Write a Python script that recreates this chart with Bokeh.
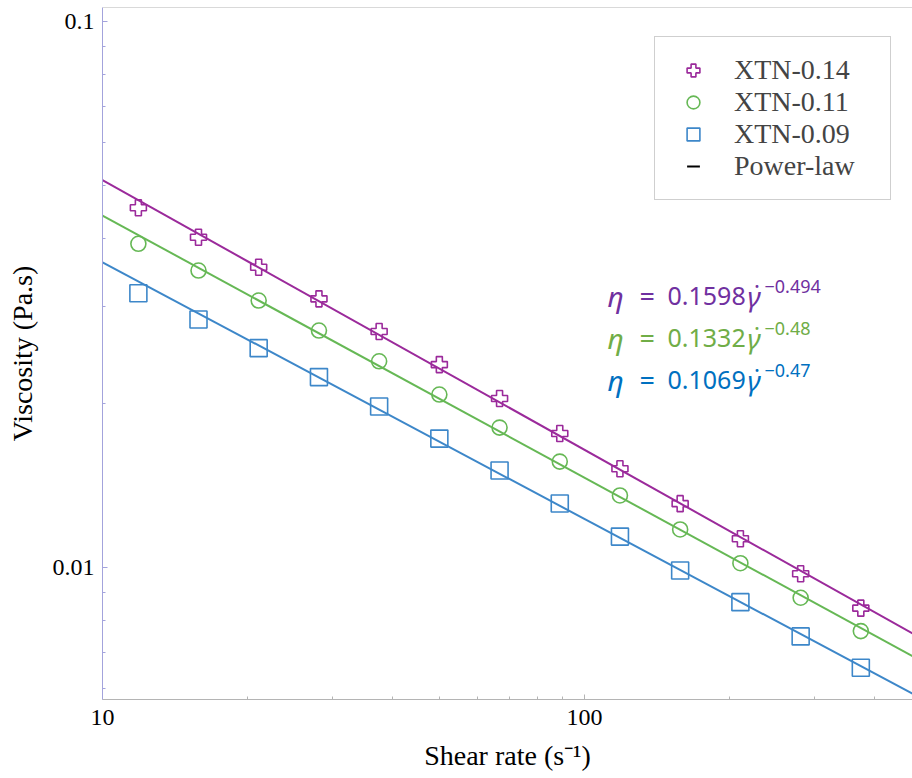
import numpy as np
from bokeh.plotting import figure
from bokeh.models import (Range1d, FixedTicker, CustomJSTickFormatter, Legend,
                          LegendItem, Label, Span)
from bokeh.embed import file_html
from bokeh.resources import INLINE

# ---------------- data ----------------
shear_rate = [11.87, 15.82, 21.09, 28.13, 37.5, 50.0, 66.67, 88.89, 118.5, 158.0, 210.7, 281.0, 374.6]
visc_014 = [0.04558, 0.04026, 0.03548, 0.03105, 0.02705, 0.02353, 0.02040,
            0.01759, 0.01516, 0.01309, 0.01129, 0.009739, 0.008424]
visc_011 = [0.03916, 0.03499, 0.03083, 0.02716, 0.02386, 0.02074, 0.01804,
            0.01563, 0.01355, 0.01174, 0.01018, 0.008801, 0.007646]
visc_009 = [0.03179, 0.02846, 0.02522, 0.02232, 0.01972, 0.01722, 0.01505,
            0.01310, 0.01139, 0.009874, 0.008640, 0.007477, 0.006552]
series_names = ["XTN-0.14", "XTN-0.11", "XTN-0.09"]
fit_k = [0.1598, 0.1332, 0.1069]
fit_n = [-0.494, -0.48, -0.47]
fit_k_text = ["0.1598", "0.1332", "0.1069"]
fit_n_text = ["\u22120.494", "\u22120.48", "\u22120.47"]
fit_x = [10.0, 480.0]
x_major = [10, 100]
x_minor = [20, 30, 40, 50, 60, 70, 80, 90, 200, 300, 400]
y_major = [0.01, 0.1]
y_minor = [0.006, 0.007, 0.008, 0.009, 0.02, 0.03, 0.04, 0.05, 0.06, 0.07, 0.08, 0.09]

line_colors = ["#9b2a9b", "#66b855", "#3d87c9"]
eq_colors = ["#7030a0", "#70ad47", "#0070c0"]
markers = ["plus", "circle", "square"]
marker_sizes = [16, 15, 17]

SERIF = "Liberation Serif"
MATH = "Noto Sans"

p = figure(width=912, height=778, x_axis_type="log", y_axis_type="log",
           x_range=Range1d(10, 479.5), y_range=Range1d(0.00573, 0.1061),
           output_backend="svg", toolbar_location=None,
           min_border_left=102, min_border_right=0, min_border_top=7, min_border_bottom=79)
p.grid.visible = False
p.outline_line_color = None
p.background_fill_color = "white"
p.border_fill_color = "white"

fmt = CustomJSTickFormatter(code="return tick.toString();")

for ax, ticks, minors, col in [(p.xaxis[0], x_major, x_minor, "#b4b4b4"),
                               (p.yaxis[0], y_major, y_minor, "#a3a3dc")]:
    ax.ticker = FixedTicker(ticks=ticks, minor_ticks=minors)
    ax.formatter = fmt
    ax.axis_line_color = col
    ax.major_tick_line_color = col
    ax.minor_tick_line_color = col
    ax.major_tick_in = 5
    ax.major_tick_out = 0
    ax.minor_tick_in = 3
    ax.minor_tick_out = 0
    ax.major_label_text_font = SERIF
    ax.major_label_text_font_size = "24px"
    ax.major_label_text_color = "black"
    ax.axis_label_text_font = SERIF
    ax.axis_label_text_font_size = "28px"
    ax.axis_label_text_font_style = "normal"
    ax.axis_label_text_color = "black"

p.xaxis.axis_label = "Shear rate (s\u207b\u00b9)"
p.yaxis.axis_label = "Viscosity (Pa.s)"
p.xaxis.major_label_standoff = 10
p.xaxis.axis_label_standoff = 12
p.yaxis.major_label_standoff = 8
p.yaxis.axis_label_standoff = 12

p.add_layout(Span(location=0.1061, dimension="width", line_color="#b4b4b4", line_width=1))

# power-law fits
fit_x_arr = np.array(fit_x)
for k, n, c in zip(fit_k, fit_n, line_colors):
    p.line(fit_x_arr, k * fit_x_arr ** n, line_color=c, line_width=2)

renderers = []
for ys, m, s, c in zip([visc_014, visc_011, visc_009], markers, marker_sizes, line_colors):
    r = p.scatter(shear_rate, ys, marker=m, size=s, fill_color=None,
                  line_color=c, line_width=1.6)
    renderers.append(r)

# legend-only entry for the fitted lines
r_pl = p.scatter(x=[float("nan")], y=[float("nan")], marker="dash", size=15,
                 line_color="black", line_width=2)

items = [LegendItem(label=nm, renderers=[r]) for nm, r in zip(series_names, renderers)]
items.append(LegendItem(label="Power-law", renderers=[r_pl]))
legend = Legend(items=items, location=(552, 499),
                label_text_font=SERIF, label_text_font_size="28px",
                border_line_color="#a0a0a0", border_line_width=1,
                padding=17, spacing=0, glyph_width=42, glyph_height=32,
                label_height=32, label_standoff=20, label_width=139,
                background_fill_color="white", background_fill_alpha=1)
p.add_layout(legend)

# equations (screen units, relative to frame bottom-left)
eq_base = [404, 362, 320]
for i in range(3):
    c = eq_colors[i]
    b = eq_base[i]
    common = dict(x_units="screen", y_units="screen", text_color=c,
                  text_baseline="alphabetic", text_font=MATH)
    p.add_layout(Label(x=505, y=b, text="\u03b7", text_font_style="italic",
                       text_font_size="28px", **common))
    p.add_layout(Label(x=537, y=b, text="=", text_font_size="27px", **common))
    p.add_layout(Label(x=565, y=b, text=fit_k_text[i], text_font_size="25px", **common))
    p.add_layout(Label(x=645, y=b, text="\u03b3", text_font_style="italic",
                       text_font_size="28px", **common))
    p.add_layout(Label(x=652, y=b + 1, text="\u02d9",
                       text_font_size="27px", **common))
    p.add_layout(Label(x=662, y=b + 9, text=fit_n_text[i],
                       text_font_size="18px", **common))

open("out.html", "w").write(file_html(p, INLINE))
